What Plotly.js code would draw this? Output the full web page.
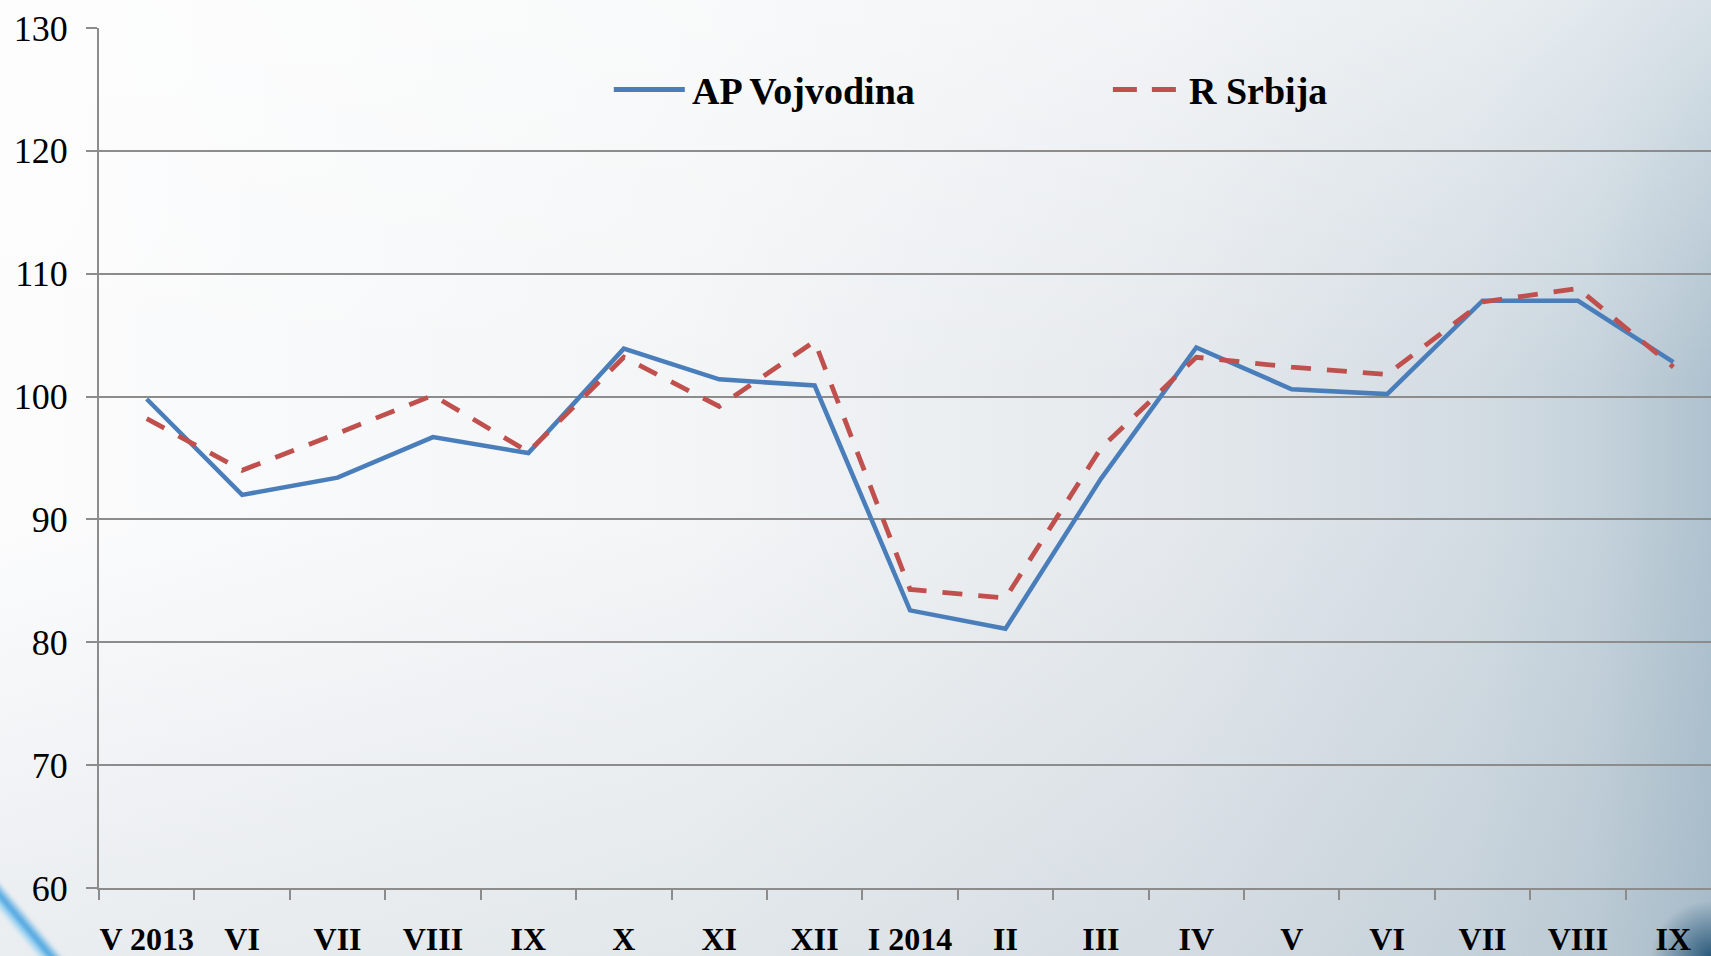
<!DOCTYPE html>
<html>
<head>
<meta charset="utf-8">
<script src="https://cdn.plot.ly/plotly-3.0.1.min.js"></script>
<style>
html, body { margin:0; padding:0; width:1711px; height:956px; overflow:hidden; }
#bg {
  position:absolute; left:0; top:0; width:1711px; height:956px; overflow:hidden;
  background:
    radial-gradient(ellipse 60px 55px at 1711px 956px, rgba(30,80,115,0.9), rgba(30,80,115,0) 100%),
    linear-gradient(to bottom, rgba(255,255,255,0.5) 0%, rgba(255,255,255,0) 40%),
    linear-gradient(to bottom, rgba(100,130,150,0) 55%, rgba(100,130,150,0.12) 100%),
    linear-gradient(to right, #fcfcfd 0%, #f3f5f6 40%, #e5e9ed 68%, #d3dce3 86%, #c6d3dc 93%, #afc2cf 100%);
}
#swoosh {
  position:absolute; left:-55px; top:905px; width:140px; height:20px;
  transform: rotate(50deg); transform-origin: center;
  background: linear-gradient(to bottom, rgba(80,170,230,0) 0%, rgba(55,155,222,0.9) 45%, rgba(130,200,240,0.75) 70%, rgba(130,200,240,0) 100%);
  filter: blur(1.5px);
}
#chart { position:absolute; left:0; top:0; width:1711px; height:956px; }
</style>
</head>
<body>
<div id="bg"><div id="swoosh"></div></div>
<div id="chart"></div>
<script>
const months = ["V 2013","VI","VII","VIII","IX","X","XI","XII","I 2014","II","III","IV","V","VI","VII","VIII","IX"];
const vojvodina = [99.8, 92.0, 93.4, 96.7, 95.4, 103.9, 101.4, 100.9, 82.6, 81.1, 93.3, 104.0, 100.6, 100.2, 107.8, 107.8, 102.8];
const srbija    = [98.2, 94.0, 97.0, 100.1, 95.5, 103.2, 99.2, 104.5, 84.3, 83.6, 95.8, 103.2, 102.4, 101.8, 107.7, 108.8, 102.4];
const seriesNames = ["AP Vojvodina", "R Srbija"];
const yTicks = [60, 70, 80, 90, 100, 110, 120, 130];

const idx = months.map((m, i) => i);
const blue = "#4a7ebb", red = "#c0504d", grid = "#8c8c8c";

const traces = [
  {x: idx, y: vojvodina, type: "scatter", mode: "lines", name: seriesNames[0],
   line: {color: blue, width: 4.5}, hoverinfo: "x+y"},
  {x: idx, y: srbija, type: "scatter", mode: "lines", name: seriesNames[1],
   line: {color: red, width: 4.8, dash: "20px,16px"}, hoverinfo: "x+y"}
];

// plot area geometry in pixels
const L = 99.3, T = 27.5, W = 1711 - L, H = 888 - T;
const px = v => (v - L) / W;
const py = v => 1 - (v - T) / H;

const serif = "'Liberation Serif', 'Times New Roman', serif";

const layout = {
  width: 1711, height: 956,
  margin: {l: L, r: 0, t: T, b: 956 - 888, pad: 0},
  paper_bgcolor: "rgba(0,0,0,0)",
  plot_bgcolor: "rgba(0,0,0,0)",
  showlegend: false,
  xaxis: {
    range: [-0.5, -0.5 + W / 95.4],
    tickmode: "array", tickvals: idx, ticktext: months,
    ticks: "", ticklen: 10,
    minor: {tick0: -0.5, dtick: 1, ticks: "outside", ticklen: 10, tickwidth: 2, tickcolor: grid, showgrid: false},
    showgrid: false, zeroline: false,
    showline: true, linecolor: grid, linewidth: 2,
    tickfont: {family: serif, size: 32, color: "#000", weight: "bold"},
    ticklabelstandoff: 22,
    fixedrange: true
  },
  yaxis: {
    range: [60, 130],
    tickmode: "array", tickvals: yTicks,
    ticks: "outside", ticklen: 11, tickwidth: 2, tickcolor: grid,
    showgrid: true, gridcolor: grid, gridwidth: 2,
    zeroline: false,
    showline: true, linecolor: grid, linewidth: 2,
    tickfont: {family: serif, size: 36, color: "#000"},
    ticklabelstandoff: 11,
    fixedrange: true
  },
  shapes: [
    {type: "line", xref: "paper", yref: "paper", x0: px(614), x1: px(685), y0: py(89), y1: py(89),
     line: {color: blue, width: 5}},
    {type: "line", xref: "paper", yref: "paper", x0: px(1113), x1: px(1176), y0: py(89), y1: py(89),
     line: {color: red, width: 5, dash: "24px,15px"}}
  ],
  annotations: [
    {xref: "paper", yref: "paper", x: px(690), y: py(91), xanchor: "left", yanchor: "middle",
     text: "<b>" + seriesNames[0] + "</b>", showarrow: false,
     font: {family: serif, size: 38, color: "#000"}},
    {xref: "paper", yref: "paper", x: px(1187), y: py(91), xanchor: "left", yanchor: "middle",
     text: "<b>" + seriesNames[1] + "</b>", showarrow: false,
     font: {family: serif, size: 38, color: "#000"}}
  ]
};

Plotly.newPlot("chart", traces, layout, {displayModeBar: false});
</script>
</body>
</html>
